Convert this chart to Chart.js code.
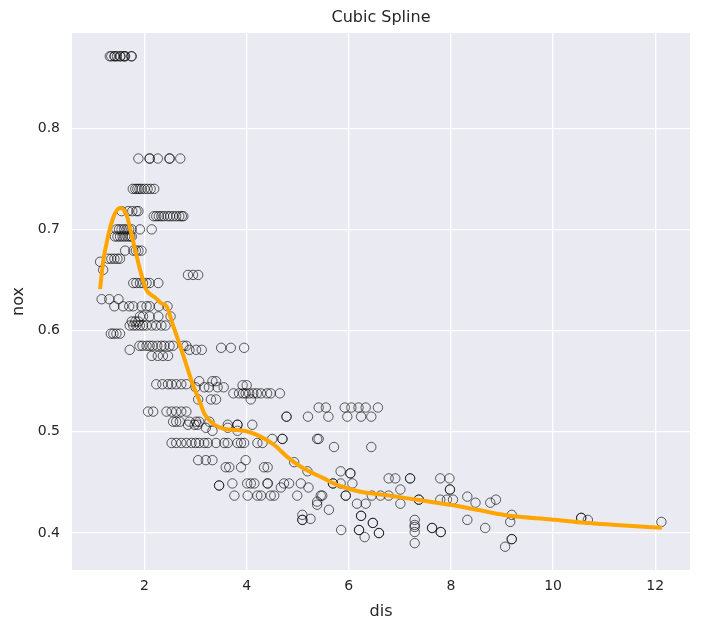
<!DOCTYPE html>
<html>
<head>
<meta charset="utf-8">
<title>Cubic Spline</title>
<script src="https://cdn.jsdelivr.net/npm/chart.js@4.4.1/dist/chart.umd.min.js"></script>
<style>
    html, body { margin: 0; padding: 0; background: #ffffff; }
    #chart { display: block; }
</style>
</head>
<body>
<canvas id="chart" width="701" height="633"></canvas>
<script>
const observations = [
    [1.32, 0.871], [1.35, 0.871], [1.41, 0.871], [1.42, 0.871], [1.46, 0.871], [1.52, 0.871],
    [1.53, 0.871], [1.59, 0.871], [1.61, 0.871], [1.62, 0.871], [1.74, 0.871], [1.75, 0.871],
    [1.88, 0.770], [2.10, 0.770], [2.10, 0.770], [2.26, 0.770], [2.49, 0.770], [2.49, 0.770], [2.70, 0.770],
    [1.77, 0.740], [1.82, 0.740], [1.86, 0.740], [1.90, 0.740], [1.94, 0.740], [2.00, 0.740], [2.06, 0.740],
    [2.12, 0.740], [2.19, 0.740],
    [1.55, 0.718], [1.68, 0.718], [1.76, 0.718], [1.84, 0.718], [1.88, 0.718],
    [2.18, 0.713], [2.23, 0.713], [2.28, 0.713], [2.33, 0.713], [2.38, 0.713], [2.45, 0.713],
    [2.50, 0.713], [2.56, 0.713], [2.62, 0.713], [2.68, 0.713], [2.73, 0.713], [2.76, 0.713],
    [1.45, 0.700], [1.50, 0.700], [1.55, 0.700], [1.60, 0.700], [1.65, 0.700], [1.70, 0.700],
    [1.75, 0.700], [1.91, 0.700], [2.14, 0.700],
    [1.42, 0.693], [1.47, 0.693], [1.52, 0.693], [1.57, 0.693], [1.62, 0.693], [1.67, 0.693],
    [1.72, 0.693], [1.75, 0.693],
    [1.62, 0.679], [1.78, 0.679], [1.83, 0.679], [1.88, 0.679], [1.94, 0.679],
    [1.29, 0.671], [1.35, 0.671], [1.41, 0.671], [1.47, 0.671], [1.52, 0.671],
    [1.13, 0.668], [1.19, 0.660],
    [2.85, 0.655], [2.95, 0.655], [3.05, 0.655],
    [1.78, 0.647], [1.84, 0.647], [1.91, 0.647], [1.97, 0.647], [2.04, 0.647], [2.10, 0.647], [2.27, 0.647],
    [1.16, 0.631], [1.31, 0.631], [1.49, 0.631],
    [1.41, 0.624], [1.58, 0.624], [1.70, 0.624], [1.78, 0.624], [1.94, 0.624], [2.04, 0.624],
    [2.10, 0.624], [2.28, 0.624], [2.45, 0.624],
    [1.91, 0.614], [1.97, 0.614], [2.10, 0.614], [2.27, 0.614], [2.51, 0.614],
    [1.75, 0.609], [1.82, 0.609], [1.88, 0.609],
    [1.71, 0.605], [1.78, 0.605], [1.84, 0.605], [1.91, 0.605], [1.97, 0.605], [2.04, 0.605],
    [2.14, 0.605], [2.23, 0.605], [2.33, 0.605], [2.41, 0.605],
    [1.34, 0.597], [1.39, 0.597], [1.45, 0.597], [1.52, 0.597],
    [1.90, 0.585], [1.96, 0.585], [2.04, 0.585], [2.10, 0.585], [2.16, 0.585], [2.25, 0.585],
    [2.33, 0.585], [2.39, 0.585], [2.49, 0.585], [2.56, 0.585], [2.76, 0.585], [2.82, 0.585],
    [1.71, 0.581], [2.88, 0.581], [3.01, 0.581], [3.12, 0.581],
    [3.50, 0.583], [3.69, 0.583], [3.95, 0.583],
    [2.14, 0.575], [2.26, 0.575], [2.36, 0.575], [2.46, 0.575],
    [2.23, 0.547], [2.35, 0.547], [2.46, 0.547], [2.53, 0.547], [2.62, 0.547], [2.72, 0.547], [2.82, 0.547],
    [3.07, 0.550], [3.33, 0.550], [3.40, 0.550],
    [3.00, 0.544], [3.17, 0.544], [3.26, 0.544], [3.43, 0.544], [3.55, 0.544],
    [3.92, 0.546], [4.00, 0.546],
    [3.74, 0.538], [3.85, 0.538], [3.93, 0.538], [3.98, 0.538], [4.05, 0.538], [4.13, 0.538],
    [4.20, 0.538], [4.28, 0.538], [4.40, 0.538], [4.47, 0.538], [4.65, 0.538],
    [3.05, 0.532], [3.30, 0.532], [3.40, 0.532], [4.08, 0.532],
    [5.41, 0.524], [5.55, 0.524], [5.92, 0.524], [6.05, 0.524], [6.19, 0.524], [6.33, 0.524], [6.57, 0.524],
    [4.78, 0.515], [4.78, 0.515], [5.20, 0.515], [5.60, 0.515], [5.97, 0.515], [6.24, 0.515], [6.44, 0.515],
    [2.07, 0.520], [2.17, 0.520], [2.43, 0.520], [2.53, 0.520], [2.62, 0.520], [2.72, 0.520], [2.82, 0.520],
    [2.56, 0.510], [2.62, 0.510], [2.69, 0.510], [2.88, 0.510], [3.01, 0.510], [3.07, 0.510], [3.27, 0.510],
    [2.85, 0.507], [2.98, 0.507], [3.04, 0.507], [3.63, 0.507], [3.82, 0.507], [3.82, 0.507], [4.11, 0.507],
    [3.20, 0.504], [3.63, 0.504], [3.33, 0.501], [3.82, 0.501],
    [2.53, 0.489], [2.62, 0.489], [2.72, 0.489], [2.82, 0.489], [2.92, 0.489], [3.00, 0.489],
    [3.07, 0.489], [3.17, 0.489], [3.24, 0.489], [3.40, 0.489], [3.56, 0.489], [3.63, 0.489],
    [3.82, 0.489], [3.89, 0.489], [3.95, 0.489], [4.21, 0.489], [4.31, 0.489],
    [4.50, 0.493], [4.70, 0.493], [4.70, 0.493], [5.38, 0.493], [5.41, 0.493],
    [3.05, 0.472], [3.20, 0.472], [3.33, 0.472], [3.98, 0.472],
    [3.59, 0.465], [3.66, 0.465], [3.89, 0.465], [4.34, 0.465], [4.41, 0.465],
    [4.93, 0.470], [5.19, 0.461], [5.84, 0.461], [6.03, 0.459], [6.03, 0.459],
    [3.46, 0.447], [3.46, 0.447],
    [3.72, 0.449], [4.01, 0.449], [4.08, 0.449], [4.15, 0.449], [4.41, 0.449], [4.41, 0.449],
    [4.73, 0.449], [4.83, 0.449], [5.06, 0.449], [5.69, 0.449], [5.69, 0.449], [5.84, 0.449], [6.07, 0.449],
    [4.67, 0.445], [5.21, 0.445],
    [5.71, 0.485], [6.44, 0.485],
    [3.76, 0.437], [4.02, 0.437], [4.21, 0.437], [4.28, 0.437], [4.47, 0.437], [4.54, 0.437],
    [4.99, 0.437], [5.45, 0.437], [5.48, 0.437], [5.94, 0.437], [5.94, 0.437], [6.45, 0.437],
    [6.62, 0.437], [6.78, 0.437],
    [5.38, 0.431], [5.38, 0.428], [5.61, 0.423],
    [6.16, 0.429], [6.33, 0.429], [7.01, 0.429],
    [6.78, 0.454], [6.91, 0.454], [7.20, 0.454], [7.20, 0.454], [7.79, 0.454], [7.97, 0.454],
    [7.01, 0.443], [7.98, 0.443], [7.98, 0.443],
    [7.37, 0.433], [7.37, 0.433], [7.79, 0.433], [7.92, 0.433], [8.04, 0.433], [8.88, 0.433],
    [8.32, 0.436], [8.48, 0.430], [8.77, 0.430],
    [8.32, 0.413], [7.29, 0.413], [9.16, 0.411], [5.09, 0.413], [5.09, 0.413], [10.68, 0.413],
    [5.09, 0.418], [9.19, 0.418], [5.25, 0.414],
    [5.85, 0.403], [6.20, 0.403], [6.20, 0.403], [6.24, 0.417], [6.24, 0.417], [6.47, 0.410], [6.47, 0.410],
    [6.31, 0.396], [6.59, 0.400], [6.59, 0.400],
    [7.29, 0.408], [7.29, 0.406], [7.29, 0.401], [7.29, 0.390],
    [7.63, 0.405], [7.63, 0.405], [8.67, 0.405], [7.80, 0.401], [7.80, 0.401],
    [9.19, 0.394], [9.19, 0.394], [9.06, 0.3865],
    [10.55, 0.415], [10.55, 0.415], [12.12, 0.411]
];

// fitted cubic spline, sampled along the orange curve
const splineDis = [1.13, 1.19, 1.29, 1.39, 1.46, 1.52, 1.58, 1.65, 1.75, 1.84, 1.94, 2.04, 2.14, 2.20, 2.33,
    2.43, 2.56, 2.69, 2.82, 2.95, 3.08, 3.17, 3.37, 3.56, 3.95, 4.28, 4.54, 4.80, 5.06, 5.51,
    5.80, 6.20, 6.72, 7.37, 8.02, 8.54, 9.19, 9.97, 10.62, 12.13];
const splineNox = [0.641, 0.668, 0.694, 0.712, 0.719, 0.721, 0.720, 0.714, 0.694, 0.675, 0.655, 0.640, 0.635, 0.633, 0.627,
    0.624, 0.605, 0.586, 0.566, 0.546, 0.530, 0.518, 0.507, 0.503, 0.501, 0.495, 0.487, 0.475, 0.4655, 0.454,
    0.447, 0.441, 0.4375, 0.4326, 0.4277, 0.4227, 0.4168, 0.4135, 0.4102, 0.4052];

const xTicks = [2, 4, 6, 8, 10, 12];
const yTicks = [0.4, 0.5, 0.6, 0.7, 0.8];
const chartTitle = 'Cubic Spline';

const textColor = '#262626';
const gridColor = '#ffffff';
const panelColor = '#eaeaf2';
const fontFamily = '"DejaVu Sans", sans-serif';

const panelBackground = {
    id: 'panelBackground',
    beforeDraw(chart) {
        const { ctx, chartArea } = chart;
        ctx.save();
        ctx.fillStyle = panelColor;
        ctx.fillRect(chartArea.left, chartArea.top, chartArea.right - chartArea.left, chartArea.bottom - chartArea.top);
        ctx.restore();
    },
};

// matplotlib centres the title over the axes, not over the whole figure
const axesTitle = {
    id: 'axesTitle',
    afterDraw(chart) {
        const { ctx, chartArea } = chart;
        ctx.save();
        ctx.fillStyle = textColor;
        ctx.font = `16px ${fontFamily}`;
        ctx.textAlign = 'center';
        ctx.textBaseline = 'middle';
        ctx.fillText(chartTitle, (chartArea.left + chartArea.right) / 2, 18);
        ctx.restore();
    },
};

const scatterPoints = observations.map(([x, y]) => ({ x, y }));
const splinePoints = splineDis.map((x, i) => ({ x, y: splineNox[i] }));

new Chart(document.getElementById('chart'), {
    type: 'scatter',
    data: {
        datasets: [
            {
                label: 'spline',
                data: splinePoints,
                showLine: true,
                borderColor: '#ffa500',
                borderWidth: 4,
                pointRadius: 0,
                cubicInterpolationMode: 'monotone',
                order: 0,
            },
            {
                label: 'data',
                data: scatterPoints,
                pointRadius: 4.7,
                pointBorderWidth: 1,
                borderColor: 'rgba(0, 0, 0, 0.62)',
                backgroundColor: 'rgba(0, 0, 0, 0)',
                order: 1,
            },
        ],
    },
    options: {
        responsive: false,
        animation: false,
        layout: { padding: { left: 0, right: 11, top: 33, bottom: 0 } },
        plugins: {
            legend: { display: false },
            tooltip: { enabled: false },
            title: { display: false },
        },
        scales: {
            x: {
                type: 'linear',
                min: 0.58,
                max: 12.68,
                afterFit: (scale) => { scale.height = 63; },
                afterBuildTicks: (scale) => { scale.ticks = xTicks.map((value) => ({ value })); },
                ticks: {
                    color: textColor,
                    font: { family: fontFamily, size: 14 },
                    padding: 8,
                    callback: (value) => String(value),
                },
                grid: { color: gridColor, lineWidth: 1.3, drawTicks: false },
                border: { display: false },
                title: {
                    display: true,
                    text: 'dis',
                    color: textColor,
                    font: { family: fontFamily, size: 16 },
                    padding: { top: 0, bottom: 12 },
                },
            },
            y: {
                type: 'linear',
                min: 0.3635,
                max: 0.894,
                afterFit: (scale) => { scale.width = 72; },
                afterBuildTicks: (scale) => { scale.ticks = yTicks.map((value) => ({ value })); },
                ticks: {
                    color: textColor,
                    font: { family: fontFamily, size: 14 },
                    padding: 12,
                    callback: (value) => value.toFixed(1),
                },
                grid: { color: gridColor, lineWidth: 1.3, drawTicks: false },
                border: { display: false },
                title: {
                    display: true,
                    text: 'nox',
                    color: textColor,
                    font: { family: fontFamily, size: 16 },
                    padding: { top: 9, bottom: 0 },
                },
            },
        },
    },
    plugins: [panelBackground, axesTitle],
});
</script>
</body>
</html>
